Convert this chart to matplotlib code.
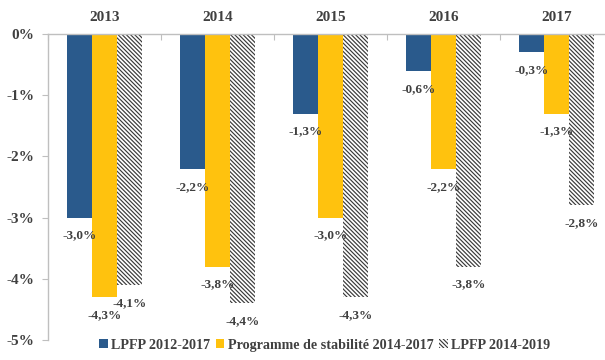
import numpy as np
import matplotlib.pyplot as plt
from matplotlib.patches import Patch
from matplotlib.ticker import FixedLocator, NullFormatter

# Solde structurel prévu par chaque loi de programmation (en % du PIB)
years = ["2013", "2014", "2015", "2016", "2017"]
lpfp_2012_2017 = [-3.0, -2.2, -1.3, -0.6, -0.3]
pstab_2014_2017 = [-4.3, -3.8, -3.0, -2.2, -1.3]
lpfp_2014_2019 = [-4.1, -4.4, -4.3, -3.8, -2.8]
series_names = ["LPFP 2012-2017", "Programme de stabilité 2014-2017", "LPFP 2014-2019"]
yticks = [0, -1, -2, -3, -4, -5]

blue = "#2A5A8C"
yellow = "#FFC20E"
grey_txt = "#404040"
axis_col = "#BFBFBF"
hatch_col = "#3a3a3a"
hatch = "\\" * 8

plt.rcParams["font.family"] = ["Liberation Serif", "DejaVu Serif"]
plt.rcParams["hatch.linewidth"] = 0.85

fig = plt.figure(figsize=(6.05, 3.6), dpi=100)
ax = fig.add_axes([48 / 605, 20 / 360, 557 / 605, 306 / 360])

x = np.arange(len(years))
w = 0.222

b1 = ax.bar(x - w, lpfp_2012_2017, w, color=blue, linewidth=0)
b2 = ax.bar(x, pstab_2014_2017, w, color=yellow, linewidth=0)
b3 = ax.bar(x + w, lpfp_2014_2019, w, facecolor="white", edgecolor=hatch_col,
            hatch=hatch, linewidth=0)

# etiquettes de valeurs sous chaque barre
for bars, vals in [(b1, lpfp_2012_2017), (b2, pstab_2014_2017), (b3, lpfp_2014_2019)]:
    for rect, v in zip(bars, vals):
        txt = f"{v:.1f}%".replace(".", ",")
        ax.annotate(txt, (rect.get_x() + rect.get_width() / 2, v),
                    xytext=(0, -13), textcoords="offset points",
                    ha="center", va="center", fontsize=9.5, color=grey_txt,
                    fontweight="bold")

ax.set_ylim(-5, 0)
ax.set_xlim(-0.5, 4.43)

ax.set_yticks(yticks)
ax.set_yticklabels([f"{t}%" for t in yticks], fontsize=11, fontweight="bold",
                   color=grey_txt)
ax.tick_params(axis="y", length=4, color=axis_col, pad=6)

# axe des abscisses en haut, graduations entre les années
ax.xaxis.tick_top()
ax.xaxis.set_major_locator(FixedLocator(np.arange(-0.5, 5, 1)))
ax.xaxis.set_major_formatter(NullFormatter())
ax.set_xticks(x, minor=True)
ax.set_xticklabels(years, minor=True, fontsize=11, fontweight="bold", color=grey_txt)
ax.tick_params(axis="x", which="major", direction="in", length=4, color=axis_col)
ax.tick_params(axis="x", which="minor", length=0, pad=7)

for side in ["right", "bottom"]:
    ax.spines[side].set_visible(False)
for side in ["left", "top"]:
    ax.spines[side].set_color(axis_col)
    ax.spines[side].set_linewidth(1.0)

handles = [Patch(facecolor=blue, linewidth=0),
           Patch(facecolor=yellow, linewidth=0),
           Patch(facecolor="white", edgecolor=hatch_col, hatch=hatch, linewidth=0)]
leg = fig.legend(handles, series_names, loc="lower center", bbox_to_anchor=(0.537, -0.012),
                 ncol=3, frameon=False, handlelength=0.6, handleheight=0.6,
                 handletextpad=0.25, columnspacing=0.4,
                 prop={"size": 10.2, "weight": "bold"})
for t in leg.get_texts():
    t.set_color(grey_txt)

fig.savefig("out.png", dpi=100)
